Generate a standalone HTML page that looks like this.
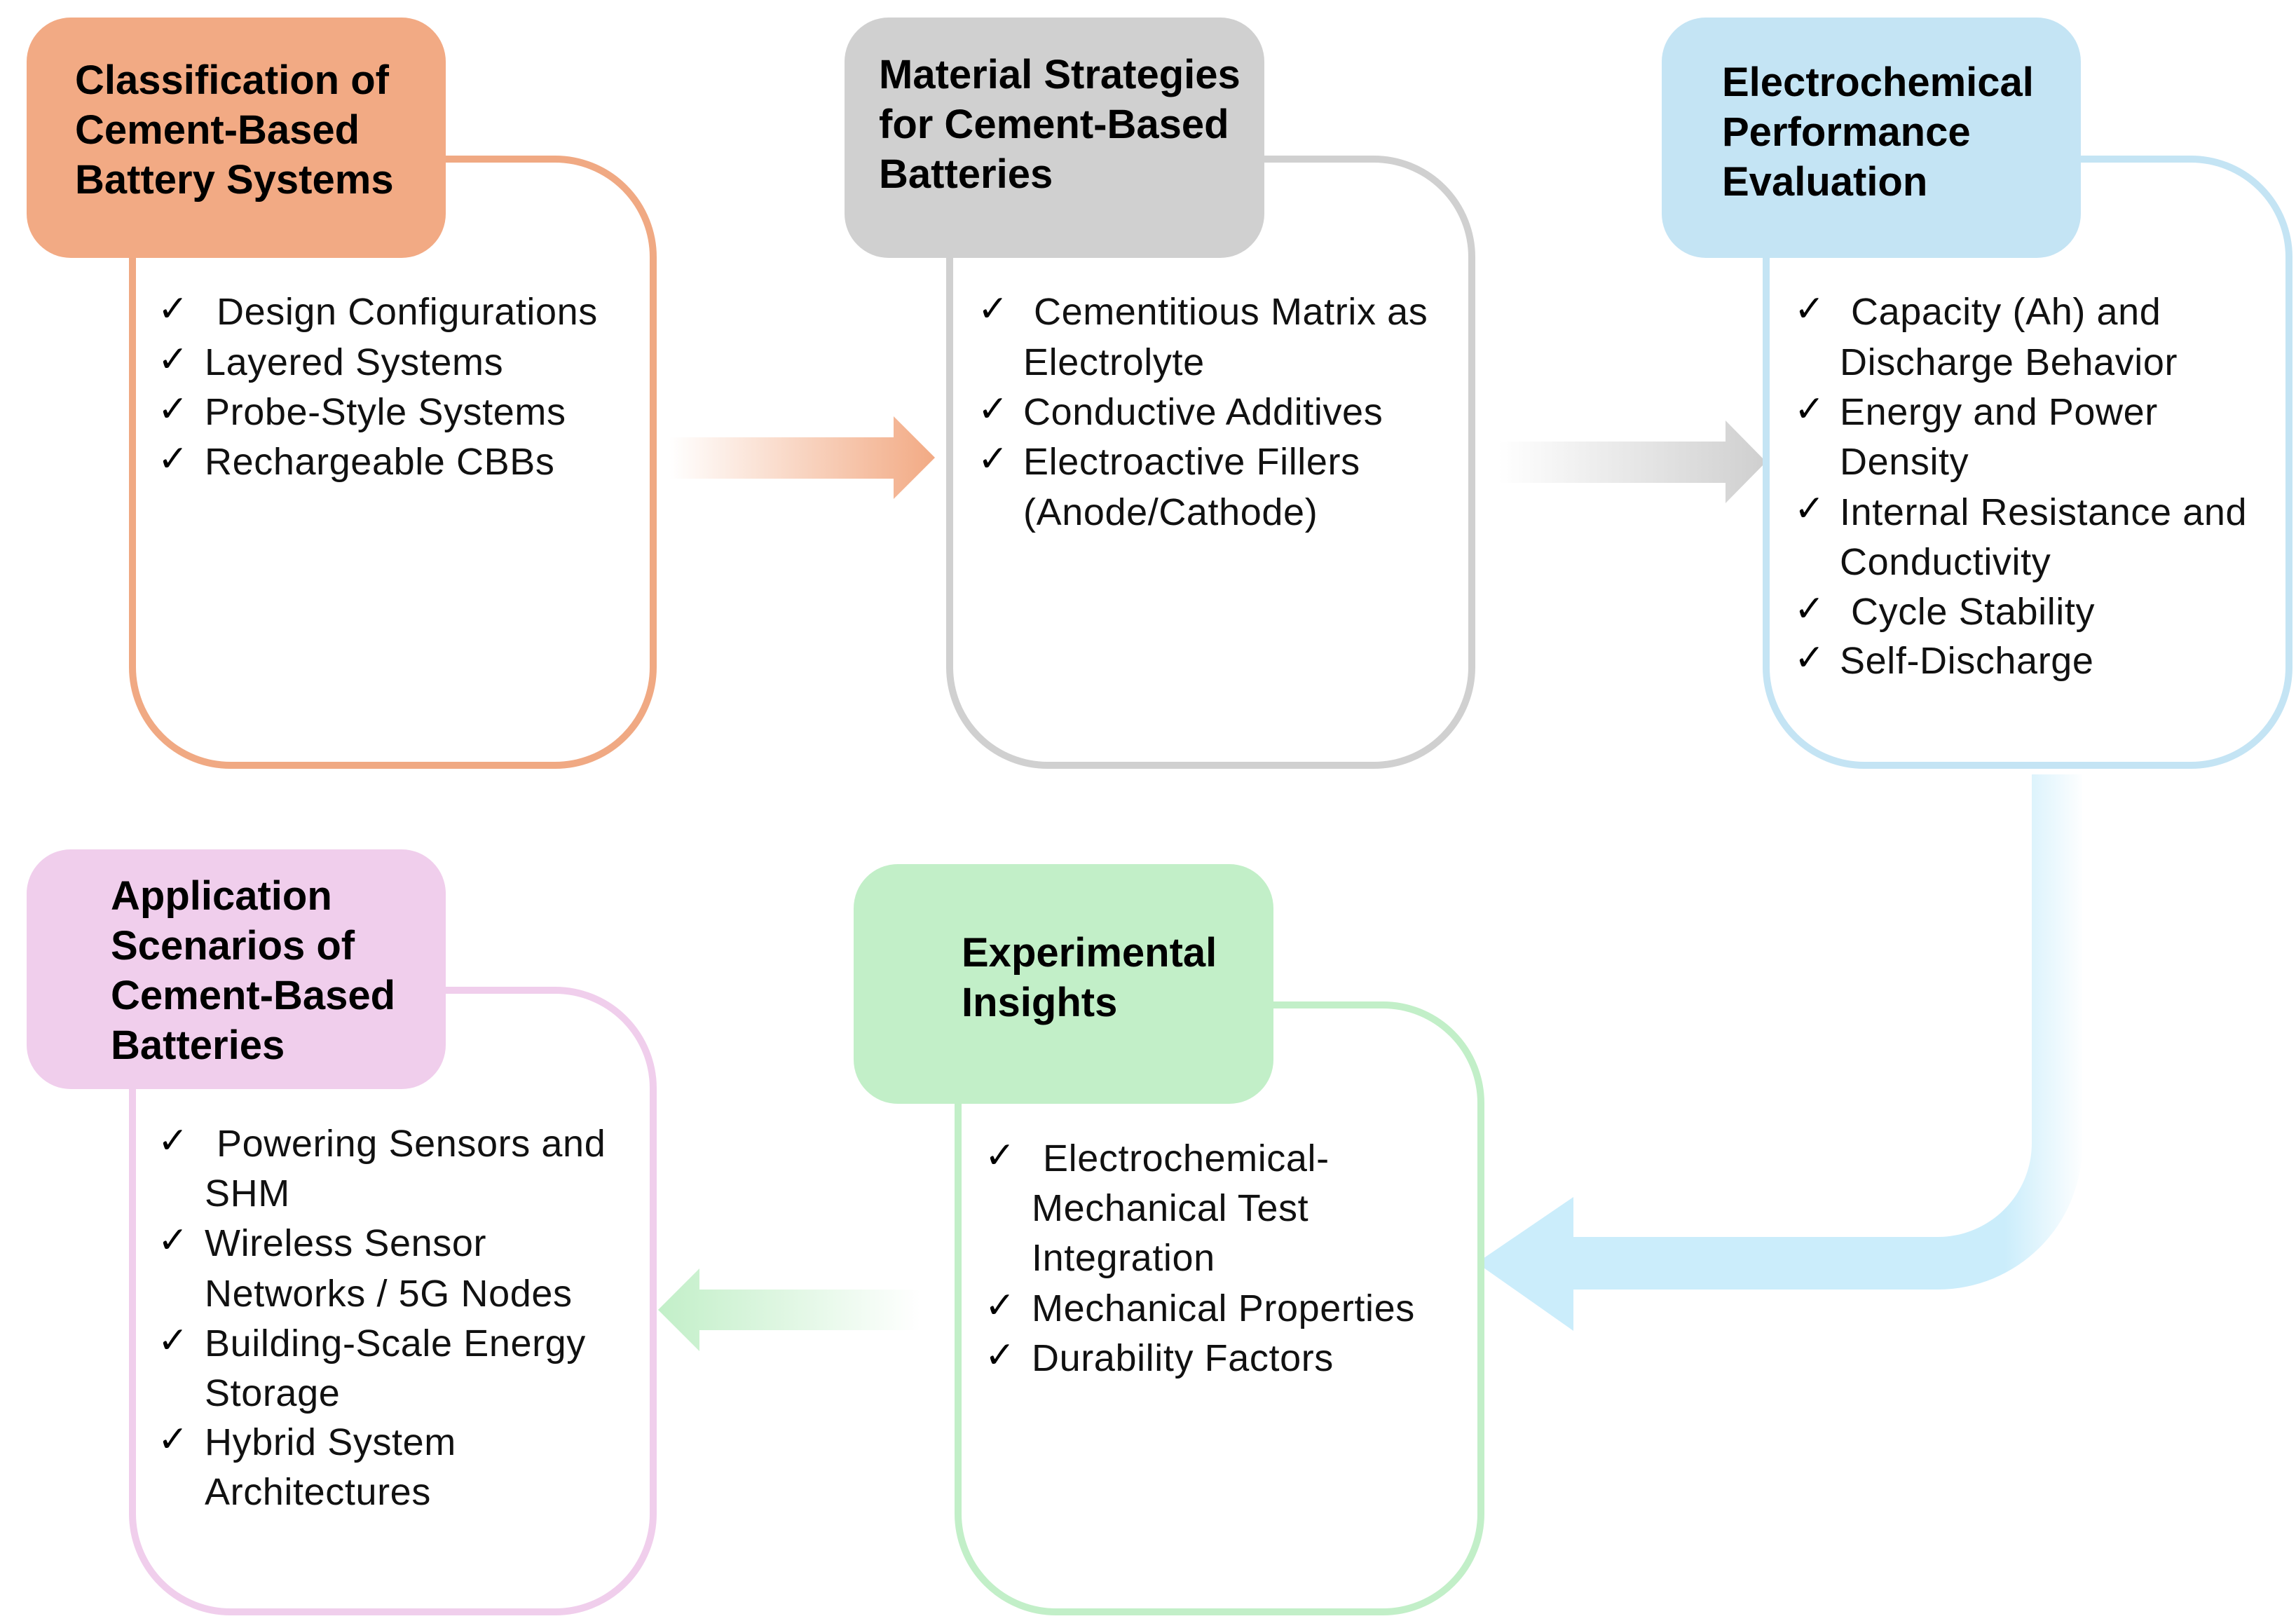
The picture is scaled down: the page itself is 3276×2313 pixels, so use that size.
<!DOCTYPE html>
<html><head><meta charset="utf-8"><style>
html,body{margin:0;padding:0;background:#fff}
svg{display:block}
.h{font-family:"Liberation Sans",Arial,sans-serif;font-weight:bold;font-size:58px;fill:#000}
.t{font-family:"Liberation Sans",Arial,sans-serif;font-size:54px;letter-spacing:0.6px;fill:#111}
.c{font-family:"DejaVu Sans",sans-serif;font-size:52px;font-weight:bold;fill:#000}
</style></head><body>
<svg width="3276" height="2313" viewBox="0 0 3276 2313" xmlns="http://www.w3.org/2000/svg">
<defs>
<linearGradient id="go" x1="0" x2="1" y1="0" y2="0"><stop offset="0" stop-color="#F2AA84" stop-opacity="0"/><stop offset="1" stop-color="#F2AA84"/></linearGradient>
<linearGradient id="gg" x1="0" x2="1" y1="0" y2="0"><stop offset="0" stop-color="#cfcfcf" stop-opacity="0"/><stop offset="1" stop-color="#cfcfcf"/></linearGradient>
<linearGradient id="gr" x1="0" x2="1" y1="0" y2="0"><stop offset="0" stop-color="#C2EFC8"/><stop offset="1" stop-color="#C2EFC8" stop-opacity="0"/></linearGradient>
<linearGradient id="gb" gradientUnits="userSpaceOnUse" x1="2860" x2="2975" y1="0" y2="0"><stop offset="0" stop-color="#CBEDFB"/><stop offset="1" stop-color="#CBEDFB" stop-opacity="0"/></linearGradient>
</defs>

<path d="M955 624 H1275 V594 L1334 653 L1275 712 V683 H955 Z" fill="url(#go)"/>
<path d="M2138 630 H2462 V600 L2520 659 L2462 718 V689 H2138 Z" fill="url(#gg)"/>
<path d="M1313 1840 H998 V1810 L939 1869 L998 1928 V1898 H1313 Z" fill="url(#gr)"/>
<path d="M2899 1105 H2971 V1634 A206 206 0 0 1 2765 1840 H2245 V1899 L2107 1802 L2245 1708 V1765 H2765 A134 134 0 0 0 2899 1631 Z" fill="url(#gb)"/>

<g fill="#fff" stroke-width="10">
<rect x="189" y="227" width="743" height="865" rx="140" stroke="#F0A983"/>
<rect x="1355" y="227" width="745" height="865" rx="140" stroke="#D0D0D0"/>
<rect x="2520" y="227" width="746" height="865" rx="140" stroke="#C4E4F4"/>
<rect x="189" y="1413" width="743" height="887" rx="140" stroke="#F0CEEC"/>
<rect x="1367" y="1434" width="746" height="866" rx="140" stroke="#C2EFC8"/>
</g>
<rect x="38" y="25" width="598" height="343" rx="63" fill="#F2AA84"/>
<rect x="1205" y="25" width="599" height="343" rx="63" fill="#D0D0D0"/>
<rect x="2371" y="25" width="598" height="343" rx="63" fill="#C4E4F4"/>
<rect x="38" y="1212" width="598" height="342" rx="63" fill="#F0CEEC"/>
<rect x="1218" y="1233" width="599" height="342" rx="63" fill="#C2EFC8"/>

<g class="h">
<text x="107" y="134">Classification of</text><text x="107" y="205">Cement-Based</text><text x="107" y="276">Battery Systems</text>
<text x="1254" y="126">Material Strategies</text><text x="1254" y="197">for Cement-Based</text><text x="1254" y="268">Batteries</text>
<text x="2457" y="137">Electrochemical</text><text x="2457" y="208">Performance</text><text x="2457" y="279">Evaluation</text>
<text x="158" y="1298">Application</text><text x="158" y="1369">Scenarios of</text><text x="158" y="1440">Cement-Based</text><text x="158" y="1511">Batteries</text>
<text x="1372" y="1379">Experimental</text><text x="1372" y="1450">Insights</text>
</g>

<g class="c">
<text x="225" y="458">✓</text><text x="225" y="530">✓</text><text x="225" y="601">✓</text><text x="225" y="672">✓</text>
<text x="1395" y="458">✓</text><text x="1395" y="601">✓</text><text x="1395" y="672">✓</text>
<text x="2560" y="458">✓</text><text x="2560" y="601">✓</text><text x="2560" y="743">✓</text><text x="2560" y="886">✓</text><text x="2560" y="956">✓</text>
<text x="225" y="1645">✓</text><text x="225" y="1787">✓</text><text x="225" y="1930">✓</text><text x="225" y="2071">✓</text>
<text x="1405" y="1666">✓</text><text x="1405" y="1880">✓</text><text x="1405" y="1951">✓</text>
</g>

<g class="t">
<text x="309" y="463">Design Configurations</text>
<text x="292" y="535">Layered Systems</text>
<text x="292" y="606">Probe-Style Systems</text>
<text x="292" y="677">Rechargeable CBBs</text>

<text x="1475" y="463">Cementitious Matrix as</text>
<text x="1460" y="535">Electrolyte</text>
<text x="1460" y="606">Conductive Additives</text>
<text x="1460" y="677">Electroactive Fillers</text>
<text x="1460" y="749">(Anode/Cathode)</text>

<text x="2641" y="463">Capacity (Ah) and</text>
<text x="2625" y="535">Discharge Behavior</text>
<text x="2625" y="606">Energy and Power</text>
<text x="2625" y="677">Density</text>
<text x="2625" y="749">Internal Resistance and</text>
<text x="2625" y="820">Conductivity</text>
<text x="2641" y="891">Cycle Stability</text>
<text x="2625" y="961">Self-Discharge</text>

<text x="309" y="1650">Powering Sensors and</text>
<text x="292" y="1721">SHM</text>
<text x="292" y="1792">Wireless Sensor</text>
<text x="292" y="1864">Networks / 5G Nodes</text>
<text x="292" y="1935">Building-Scale Energy</text>
<text x="292" y="2006">Storage</text>
<text x="292" y="2076">Hybrid System</text>
<text x="292" y="2147">Architectures</text>

<text x="1488" y="1671">Electrochemical-</text>
<text x="1472" y="1742">Mechanical Test</text>
<text x="1472" y="1813">Integration</text>
<text x="1472" y="1885">Mechanical Properties</text>
<text x="1472" y="1956">Durability Factors</text>
</g>
</svg>
</body></html>
